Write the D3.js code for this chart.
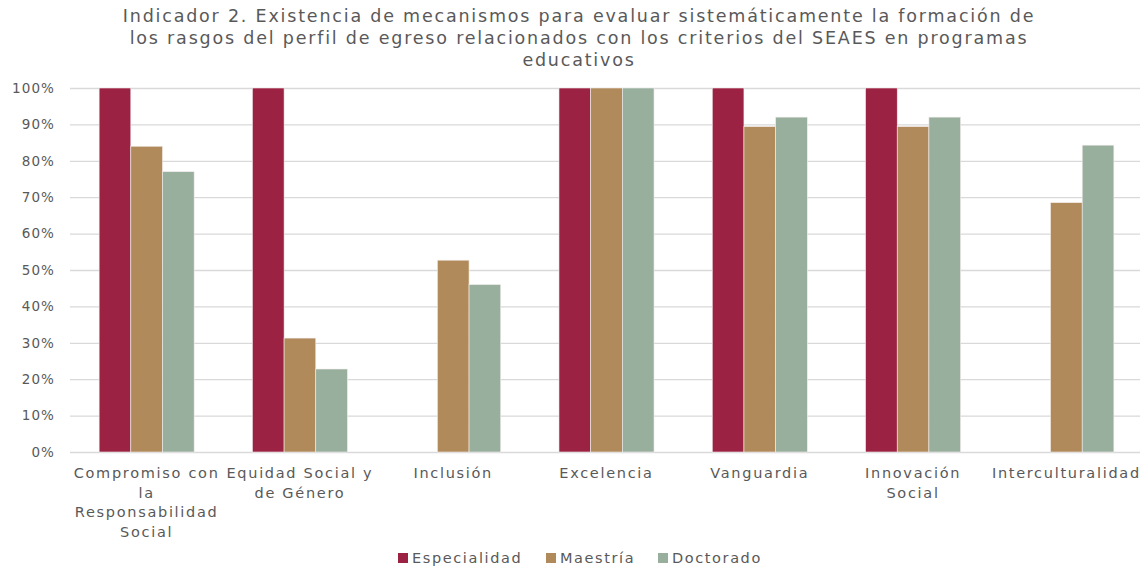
<!DOCTYPE html>
<html><head><meta charset="utf-8">
<script src="https://cdn.jsdelivr.net/npm/d3@7"></script>
<style>body{margin:0;background:#fff;} svg{display:block;font-family:"DejaVu Sans",sans-serif;}</style>
</head><body>
<svg id="c" width="1143" height="569"></svg>
<script>
const titleLines = ["Indicador 2. Existencia de mecanismos para evaluar sistemáticamente la formación de",
 "los rasgos del perfil de egreso relacionados con los criterios del SEAES en programas",
 "educativos"];
const categories = ["Compromiso con la Responsabilidad Social","Equidad Social y de Género","Inclusión","Excelencia","Vanguardia","Innovación Social","Interculturalidad"];
const categoryLines = [["Compromiso con","la","Responsabilidad","Social"],["Equidad Social y","de Género"],["Inclusión"],["Excelencia"],["Vanguardia"],["Innovación","Social"],["Interculturalidad"]];
const seriesNames = ["Especialidad","Maestría","Doctorado"];
const especialidad = [100,100,0,100,100,100,0];
const maestria = [84,31.3,52.7,100,89.4,89.4,68.5];
const doctorado = [77,22.8,46,100,92,92,84.3];
const yTicks = [0,10,20,30,40,50,60,70,80,90,100];
const colors = ["#9B2243","#B08A5A","#98AF9E"];
const seriesValues = [especialidad, maestria, doctorado];

const svg = d3.select("#c");
const M = {l:70, r:1143, t:88, b:452};
const x = d3.scaleBand().domain(categories).range([M.l, M.r]).paddingInner(0.38).paddingOuter(0.19);
const x1 = d3.scaleBand().domain(seriesNames).range([0, x.bandwidth()]);
const y = d3.scaleLinear().domain([0,100]).range([M.b, M.t]);
const textColor = "#595959";

// title
svg.append("g").selectAll("text").data(titleLines).join("text")
  .attr("x", 579).attr("y", (d,i)=>22 + i*22)
  .attr("text-anchor","middle").attr("font-size",17.5).attr("letter-spacing",1.8).attr("fill",textColor).text(d=>d);

// grid
const yAxis = d3.axisLeft(y).tickValues(yTicks).tickFormat(d=>d+"%").tickSize(-(M.r-M.l-3)).tickPadding(15);
const gy = svg.append("g").attr("transform",`translate(${M.l},0)`).call(yAxis);
gy.select(".domain").remove();
gy.selectAll(".tick line").attr("stroke","#d9d9d9").attr("stroke-width",1.3);
gy.selectAll(".tick text").attr("fill",textColor).attr("font-size",13.5).attr("letter-spacing",1.1).attr("font-family","DejaVu Sans");

// bars
const g = svg.append("g");
categories.forEach((c,ci)=>{
  seriesNames.forEach((s,si)=>{
    const v = seriesValues[si][ci];
    if (v<=0) return;
    g.append("rect").attr("x", x(c)+x1(s)).attr("y", y(v))
      .attr("width", x1.bandwidth()).attr("height", y(0)-y(v))
      .attr("fill", colors[si]).attr("stroke","#f4eded").attr("stroke-width",0.6);
  });
});

// x labels
const gx = svg.append("g");
categories.forEach((c,ci)=>{
  const t = gx.append("text").attr("text-anchor","middle").attr("fill",textColor).attr("font-size",14.5).attr("letter-spacing",1.7);
  categoryLines[ci].forEach((ln,li)=>{
    t.append("tspan").attr("x", x(c)+x.bandwidth()/2).attr("y", 478 + li*19.7).text(ln);
  });
});

// legend
const legX = [398, 546, 658];
const lg = svg.append("g");
seriesNames.forEach((s,i)=>{
  lg.append("rect").attr("x",legX[i]).attr("y",553).attr("width",10).attr("height",10).attr("fill",colors[i]);
  lg.append("text").attr("x",legX[i]+14).attr("y",563).attr("font-size",14.5).attr("letter-spacing",1.6).attr("fill",textColor).text(s);
});
</script>
</body></html>
